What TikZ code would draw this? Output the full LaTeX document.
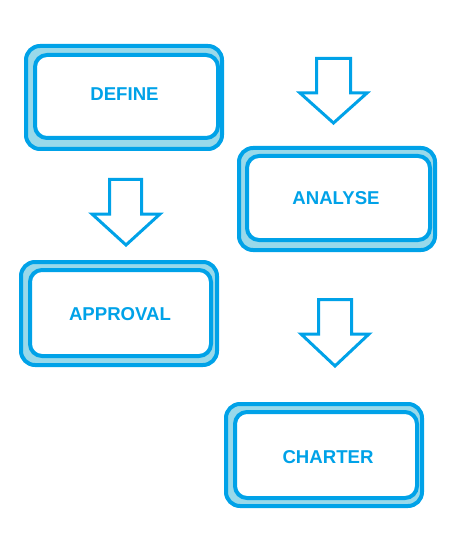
\documentclass[tikz,border=0pt]{standalone}
\usepackage{fontspec}
\setmainfont{Liberation Sans}
\definecolor{pblue}{HTML}{00A2E8}
\definecolor{plight}{HTML}{99D9EA}
\tikzset{
  outerbox/.style={draw=pblue, line width=4pt, fill=plight, rounded corners=14pt},
  innerbox/.style={draw=pblue, line width=4pt, fill=white, rounded corners=12pt,
    rectangle, inner sep=0pt, outer sep=0pt, text=pblue,
    font=\fontsize{18.6}{20}\selectfont\bfseries},
  downarrow/.style={draw=pblue, line width=3pt, fill=white, line join=miter}
}
\begin{document}
\begin{tikzpicture}[x=1pt,y=-1pt]
\useasboundingbox (0,0) rectangle (462,553);
% DEFINE
\draw[outerbox] (26,46) rectangle (222,149);
\node[innerbox, minimum width=183pt, minimum height=83pt] (define) at (126.5,96.5) {};
\node[text=pblue, font=\fontsize{18.6}{20}\selectfont\bfseries] (tdefine) at (124.5,94.5) {DEFINE};
% ANALYSE
\draw[outerbox] (239,148) rectangle (435,250);
\node[innerbox, minimum width=183pt, minimum height=84pt] (analyse) at (338.5,198) {};
\node[text=pblue, font=\fontsize{18.6}{20}\selectfont\bfseries] (tanalyse) at (336,198) {ANALYSE};
% APPROVAL
\draw[outerbox] (21,262) rectangle (217,365);
\node[innerbox, minimum width=181pt, minimum height=86pt] (approval) at (120.5,313) {};
\node[text=pblue, font=\fontsize{18.6}{20}\selectfont\bfseries] (tapproval) at (120,314) {APPROVAL};
% CHARTER
\draw[outerbox] (226,404) rectangle (422,506);
\node[innerbox, minimum width=182pt, minimum height=86pt] (charter) at (326,455) {};
\node[text=pblue, font=\fontsize{18.6}{20}\selectfont\bfseries] (tcharter) at (328,457) {CHARTER};
% arrows
\draw[downarrow] (316.5,58.5) -- (350.5,58.5) -- (350.5,93) -- (367,93) -- (333.5,123) -- (300,93) -- (316.5,93) -- cycle;
\draw[downarrow] (109.5,179.5) -- (141.5,179.5) -- (141.5,214) -- (160,214) -- (126,245) -- (92,214) -- (109.5,214) -- cycle;
\draw[downarrow] (318.5,299.5) -- (351.5,299.5) -- (351.5,334) -- (369,334) -- (335,366) -- (301,334) -- (318.5,334) -- cycle;
\end{tikzpicture}
\end{document}
